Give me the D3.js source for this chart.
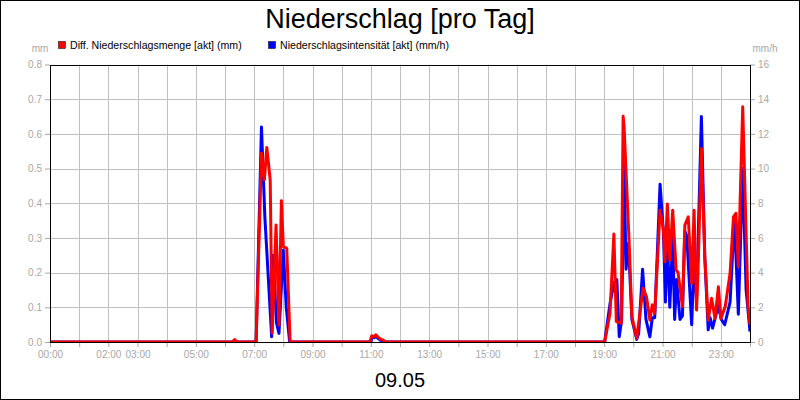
<!DOCTYPE html>
<html><head><meta charset="utf-8">
<script src="https://cdn.jsdelivr.net/npm/d3@7/dist/d3.min.js"></script>
<style>
html,body{margin:0;padding:0;background:#fff;}
svg{display:block;font-family:"Liberation Sans",Arial,sans-serif;}
</style></head>
<body>
<svg id="chart" width="800" height="400"></svg>
<script>
// ---- data ----
const title = "Niederschlag [pro Tag]";
const dateLabel = "09.05";
const seriesNames = ["Diff. Niederschlagsmenge [akt] (mm)", "Niederschlagsintensität [akt] (mm/h)"];
const seriesColors = ["#ff0000", "#0000ff"];
const leftTicks = [0,0.1,0.2,0.3,0.4,0.5,0.6,0.7,0.8];
const rightTicks = [0,2,4,6,8,10,12,14,16];
const xTickLabels = ["00:00","02:00","03:00","05:00","07:00","09:00","11:00","13:00","15:00","17:00","19:00","21:00","23:00"];

const mengeTimes = ["00:00","06:15","06:20","06:25","07:04","07:15","07:21","07:26","07:33","07:37","07:45","07:51","07:56","08:00","08:07","08:14",
 "10:58","11:02","11:06","11:10","11:15","11:20","11:25","11:30",
 "19:01","19:12","19:20","19:25","19:35","19:39","19:41","19:51","19:57","20:07","20:20","20:27","20:34","20:39","20:44","20:55",
 "21:02","21:05","21:10","21:15","21:21","21:28","21:32","21:41","21:46","21:53","22:00","22:05","22:10","22:13","22:20","22:27",
 "22:34","22:41","22:48","22:55","23:00","23:09","23:19","23:26","23:31","23:36","23:45","23:52","23:56","24:00"];
const mengeValues = [0,0,0.007,0,0,0.544,0.467,0.561,0.467,0.025,0.337,0.049,0.407,0.275,0.27,0,
 0,0.018,0.015,0.021,0.014,0.008,0.006,0,
 0,0.083,0.311,0.059,0.054,0.651,0.62,0.299,0.073,0.011,0.155,0.131,0.063,0.107,0.083,0.38,
 0.323,0.231,0.398,0.236,0.38,0.208,0.2,0.102,0.337,0.361,0.169,0.38,0.092,0.2,0.558,0.246,
 0.063,0.126,0.068,0.159,0.068,0.102,0.198,0.361,0.371,0.217,0.678,0.313,0.102,0.05];

const intensTimes = ["00:00","07:04","07:15","07:22","07:36","07:39","07:46","07:51","08:00","08:06","08:13",
 "11:00","11:03","11:07","11:10","11:15","11:20","11:28",
 "19:01","19:12","19:20","19:26","19:31","19:36","19:41","19:45","19:50","19:57","20:07","20:11","20:19","20:26","20:34","20:39","20:44","20:55",
 "21:02","21:06","21:10","21:15","21:21","21:25","21:29","21:36","21:41","21:46","21:50","22:00","22:05","22:10","22:20","22:27",
 "22:34","22:38","22:43","22:55","23:01","23:08","23:19","23:28","23:36","23:45","23:52","24:00"];
const intensValues = [0,0,12.4,7.2,0.3,5.0,1.1,0.5,5.3,2.0,0,
 0,0.3,0.25,0.35,0.2,0.1,0,
 0,2.2,3.4,3.6,0.3,1.3,10.2,4.2,5.7,1.3,0.15,0.5,4.2,1.3,0.3,1.4,1.4,9.1,
 6.3,2.3,6.0,2.0,6.0,1.3,3.6,1.3,1.5,6.4,6.1,1.0,4.7,2.4,13.0,4.9,
 0.7,1.4,0.8,2.1,1.3,1.0,2.3,7.2,1.6,10.0,3.0,0.6];

// ---- layout ----
const W = 800, H = 400;
const m = {left:50, right:750, top:64.5, bottom:342};
const toMin = s => { const [h,mm] = s.split(":").map(Number); return h*60+mm; };

const svg = d3.select("#chart");
const x = d3.scaleLinear().domain([0,1440]).range([m.left,m.right]);
const yL = d3.scaleLinear().domain([0,0.8]).range([m.bottom,m.top]);
const yR = d3.scaleLinear().domain([0,16]).range([m.bottom,m.top]);

svg.append("rect").attr("x",0.5).attr("y",0.5).attr("width",W-1).attr("height",H-1)
  .attr("fill","#fff").attr("stroke","#000");

const gridColor = "#c0c0c0", labelColor = "#a8a8a8";

// grid
const hours = d3.range(0,25);
svg.append("g").selectAll("line").data(hours.slice(1,24)).join("line")
  .attr("x1",d=>Math.round(x(d*60))+0.5).attr("x2",d=>Math.round(x(d*60))+0.5)
  .attr("y1",m.top).attr("y2",m.bottom).attr("stroke",gridColor);
svg.append("g").selectAll("line").data(leftTicks.slice(1,-1)).join("line")
  .attr("x1",m.left).attr("x2",m.right)
  .attr("y1",d=>Math.round(yL(d))+0.5).attr("y2",d=>Math.round(yL(d))+0.5).attr("stroke",gridColor);

// axes
const styleAxis = g => {
  g.select(".domain").remove();
  g.selectAll(".tick line").attr("stroke",labelColor);
  g.selectAll(".tick text").attr("fill",labelColor).attr("font-size","10px")
    .attr("font-family","'Liberation Sans',Arial,sans-serif");
};
svg.append("g").attr("transform",`translate(${m.left},0)`)
  .call(d3.axisLeft(yL).tickValues(leftTicks).tickSize(5).tickPadding(3).tickFormat(d3.format(".1f")))
  .call(styleAxis);
svg.append("g").attr("transform",`translate(${m.right},0)`)
  .call(d3.axisRight(yR).tickValues(rightTicks).tickSize(5).tickPadding(3).tickFormat(d3.format("d")))
  .call(styleAxis);
const labelSet = new Set(xTickLabels);
svg.append("g").attr("transform",`translate(0,${m.bottom})`)
  .call(d3.axisBottom(x).tickValues(hours.map(h=>h*60)).tickSize(5).tickPadding(4)
    .tickFormat(d => { const s = String(Math.floor(d/60)).padStart(2,"0")+":00"; return labelSet.has(s) && d<1440 ? s : ""; }))
  .call(styleAxis);

// unit labels
svg.append("text").attr("x",40).attr("y",52).attr("text-anchor","middle")
  .attr("font-size","10px").attr("fill",labelColor).text("mm");
svg.append("text").attr("x",765).attr("y",52).attr("text-anchor","middle")
  .attr("font-size","10px").attr("fill",labelColor).text("mm/h");

// clip
svg.append("clipPath").attr("id","clip").append("rect")
  .attr("x",m.left).attr("y",m.top).attr("width",m.right-m.left).attr("height",m.bottom-m.top);

// lines
const intensData = intensTimes.map((t,i)=>({t:toMin(t), v:intensValues[i]}));
const mengeData = mengeTimes.map((t,i)=>({t:toMin(t), v:mengeValues[i]}));
const lineG = svg.append("g").attr("clip-path","url(#clip)");
lineG.append("path").datum(intensData)
  .attr("d", d3.line().x(d=>x(d.t)).y(d=>yR(d.v)))
  .attr("fill","none").attr("stroke",seriesColors[1]).attr("stroke-width",3).attr("stroke-linejoin","round");
lineG.append("path").datum(mengeData)
  .attr("d", d3.line().x(d=>x(d.t)).y(d=>yL(d.v)))
  .attr("fill","none").attr("stroke",seriesColors[0]).attr("stroke-width",3).attr("stroke-linejoin","round");

// plot frame
svg.append("rect").attr("x",m.left+0.5).attr("y",Math.round(m.top)+0.5)
  .attr("width",m.right-m.left).attr("height",Math.round(m.bottom)-Math.round(m.top))
  .attr("fill","none").attr("stroke","#000");

// title
svg.append("text").attr("x",400).attr("y",28).attr("text-anchor","middle")
  .attr("font-size","27px").attr("fill","#000").text(title);
svg.append("text").attr("x",400).attr("y",387).attr("text-anchor","middle")
  .attr("font-size","20px").attr("fill","#000").text(dateLabel);

// legend
const legX = [58, 268];
seriesNames.forEach((n,i)=>{
  svg.append("rect").attr("x",legX[i]+0.5).attr("y",41.5).attr("width",7).attr("height",7)
    .attr("fill",seriesColors[i]).attr("stroke","#000").attr("stroke-width",0.5);
  svg.append("text").attr("x",legX[i]+12).attr("y",49).attr("font-size","10.6px").attr("fill","#000").text(n);
});
</script>
</body></html>
